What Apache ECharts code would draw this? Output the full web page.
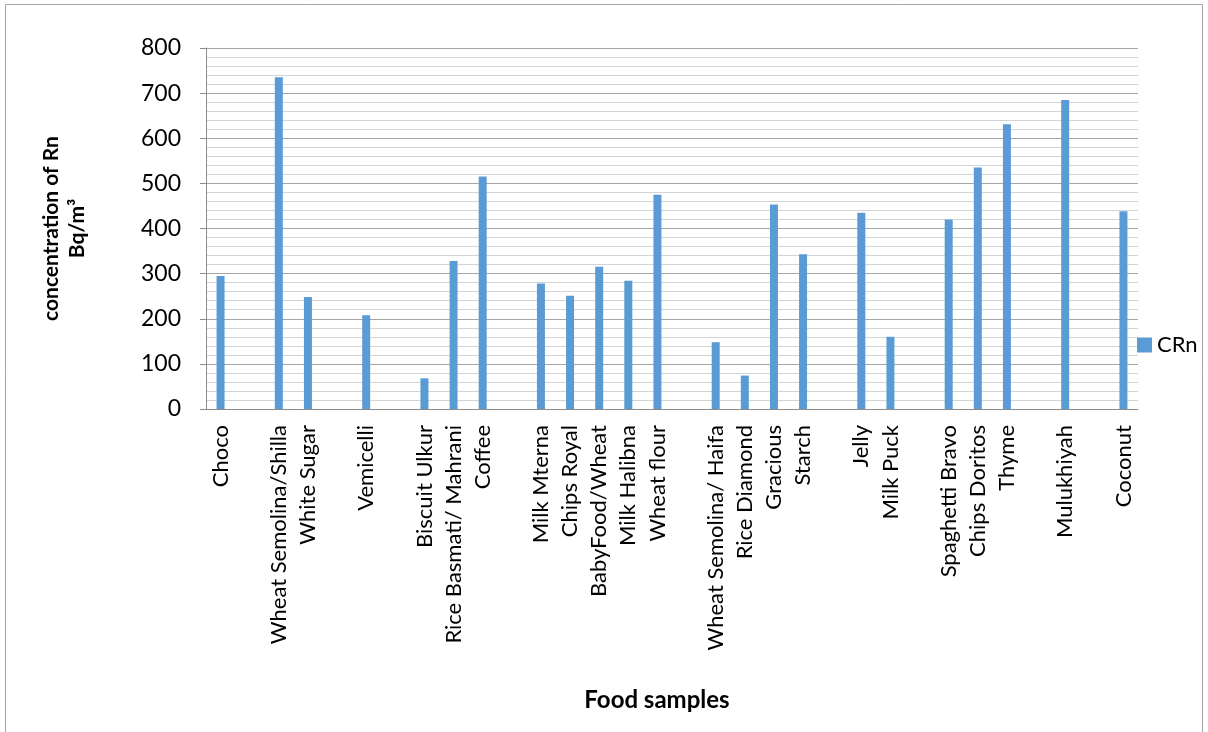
<!DOCTYPE html>
<html>
<head>
<meta charset="utf-8">
<title>Rn concentration in food samples</title>
<script src="https://cdn.jsdelivr.net/npm/echarts@6/dist/echarts.min.js"></script>
<style>
  html, body { margin: 0; padding: 0; background: #ffffff; }
  #chart { width: 1208px; height: 732px; }
</style>
</head>
<body>
<div id="chart"></div>
<script>
// Sample names along the x axis; blank entries are empty slots in the sheet
const foods = [
  'Choco', '', 'Wheat Semolina/Shilla', 'White Sugar', '', 'Vemicelli', '',
  'Biscuit Ulkur', 'Rice Basmati/ Mahrani', 'Coffee', '',
  'Milk Mterna', 'Chips Royal', 'BabyFood/Wheat', 'Milk Halibna', 'Wheat flour', '',
  'Wheat Semolina/ Haifa', 'Rice Diamond', 'Gracious', 'Starch', '',
  'Jelly', 'Milk Puck', '', 'Spaghetti Bravo', 'Chips Doritos', 'Thyme', '',
  'Mulukhiyah', '', 'Coconut'
];

// Radon concentration CRn (Bq/m³) per sample, null where the slot is empty
const cRn = [
  295, null, 735, 248, null, 208, null,
  68, 328, 515, null,
  278, 251, 315, 284, 475, null,
  148, 74, 453, 343, null,
  435, 160, null, 420, 535, 631, null,
  685, null, 438
];

const yTicks = { min: 0, max: 800, step: 100, minorParts: 5 };

const seriesName = 'CRn';
const yTitle = 'concentration of Rn\nBq/m³';
const xTitle = 'Food samples';

const FONT = 'Lato, "Open Sans", sans-serif';

const chart = echarts.init(document.getElementById('chart'), null, { renderer: 'canvas' });

chart.setOption({
  backgroundColor: '#ffffff',
  animation: false,
  grid: { left: 206, right: 70, top: 48, bottom: 323, containLabel: false },
  legend: {
    data: [seriesName],
    left: 1137,
    top: 334,
    padding: 0,
    orient: 'vertical',
    icon: 'rect',
    itemWidth: 15,
    itemHeight: 15,
    itemGap: 6,
    textStyle: { fontFamily: FONT, fontSize: 22, color: '#000000' }
  },
  xAxis: {
    type: 'category',
    data: foods,
    axisLine: { show: true, lineStyle: { color: '#8c8c8c', width: 1 } },
    axisTick: { show: false },
    axisLabel: {
      interval: 0,
      rotate: 90,
      margin: 16,
      fontFamily: FONT,
      fontSize: 22,
      color: '#000000'
    },
    splitLine: { show: false }
  },
  yAxis: {
    type: 'value',
    min: yTicks.min,
    max: yTicks.max,
    interval: yTicks.step,
    name: yTitle,
    nameLocation: 'middle',
    nameRotate: 90,
    nameGap: 116,
    nameTextStyle: {
      fontFamily: FONT,
      fontSize: 21,
      fontWeight: 'bold',
      color: '#000000',
      lineHeight: 26,
      align: 'center'
    },
    axisLine: { show: true, lineStyle: { color: '#8c8c8c', width: 1 } },
    axisTick: { show: true, length: 6, lineStyle: { color: '#8c8c8c' } },
    minorTick: { show: false, splitNumber: yTicks.minorParts },
    axisLabel: {
      margin: 25,
      fontFamily: FONT,
      fontSize: 23,
      color: '#000000'
    },
    splitLine: { show: true, lineStyle: { color: '#a6a6a6', width: 1 } },
    minorSplitLine: { show: true, lineStyle: { color: '#d4d4d4', width: 1 } }
  },
  series: [{
    name: seriesName,
    type: 'bar',
    data: cRn,
    barWidth: 8,
    itemStyle: { color: '#5b9bd5' }
  }],
  graphic: [
    {
      type: 'rect',
      silent: true,
      shape: { x: 5.5, y: 4.5, width: 1197, height: 800 },
      style: { fill: 'none', stroke: '#a6a6a6', lineWidth: 1 }
    },
    {
      type: 'text',
      x: 657, y: 700,
      style: {
        text: xTitle,
        fontFamily: FONT, fontSize: 24, fontWeight: 'bold', fill: '#000000',
        align: 'center', verticalAlign: 'middle'
      }
    }
  ]
});
</script>
</body>
</html>
